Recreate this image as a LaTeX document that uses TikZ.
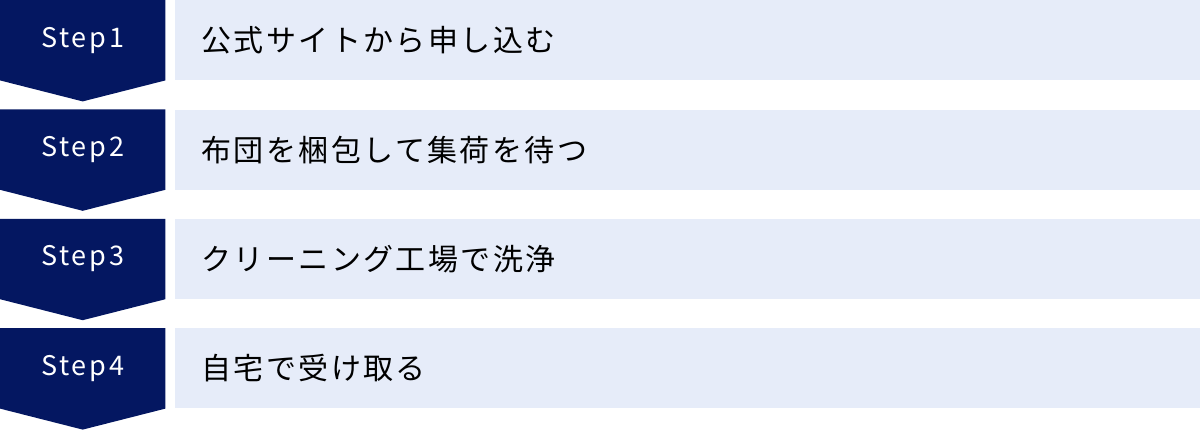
\documentclass[tikz,border=0pt]{standalone}
\usepackage{fontspec}
\setmainfont{Noto Sans CJK JP}
\newfontfamily\jpfont[LetterSpace=8]{Noto Sans CJK JP}
\newfontfamily\stepfont[LetterSpace=10]{Noto Sans CJK JP}
\usetikzlibrary{positioning,backgrounds}

\definecolor{stepnavy}{HTML}{041761}
\definecolor{rowblue}{HTML}{E6ECF9}

\tikzset{
  stepbox/.style={text=white, minimum width=165pt, minimum height=80pt,
    inner sep=0pt, font=\stepfont\fontsize{27pt}{27pt}\selectfont},
  rowbox/.style={fill=rowblue, text=black, minimum height=80pt, text width=972pt,
    inner xsep=27pt, inner ysep=0pt, align=left,
    font=\jpfont\fontsize{30pt}{30pt}\selectfont}
}

\begin{document}
\begin{tikzpicture}[x=1pt, y=1pt]
  \useasboundingbox (0,0) rectangle (1200,-429);

  % Draw step boxes
  \node [stepbox, anchor=north west] (s1) at (0,0) {Step1};
  \node [stepbox, below=29pt of s1] (s2) {Step2};
  \node [stepbox, below=29pt of s2] (s3) {Step3};
  \node [stepbox, below=29pt of s3] (s4) {Step4};

  % Draw arrow shapes
  \begin{scope}[on background layer]
    \foreach \s in {s1,s2,s3,s4} {
      \fill [stepnavy] (\s.north west) -- (\s.north east) -- (\s.south east)
        -- ([yshift=-21pt]\s.south) -- (\s.south west) -- cycle;
    }
  \end{scope}

  % Draw rows
  \node [rowbox, right=9pt of s1] (r1) {公式サイトから申し込む};
  \node [rowbox, right=9pt of s2] (r2) {布団を梱包して集荷を待つ};
  \node [rowbox, right=9pt of s3] (r3) {クリーニング工場で洗浄};
  \node [rowbox, right=9pt of s4] (r4) {自宅で受け取る};
\end{tikzpicture}
\end{document}
